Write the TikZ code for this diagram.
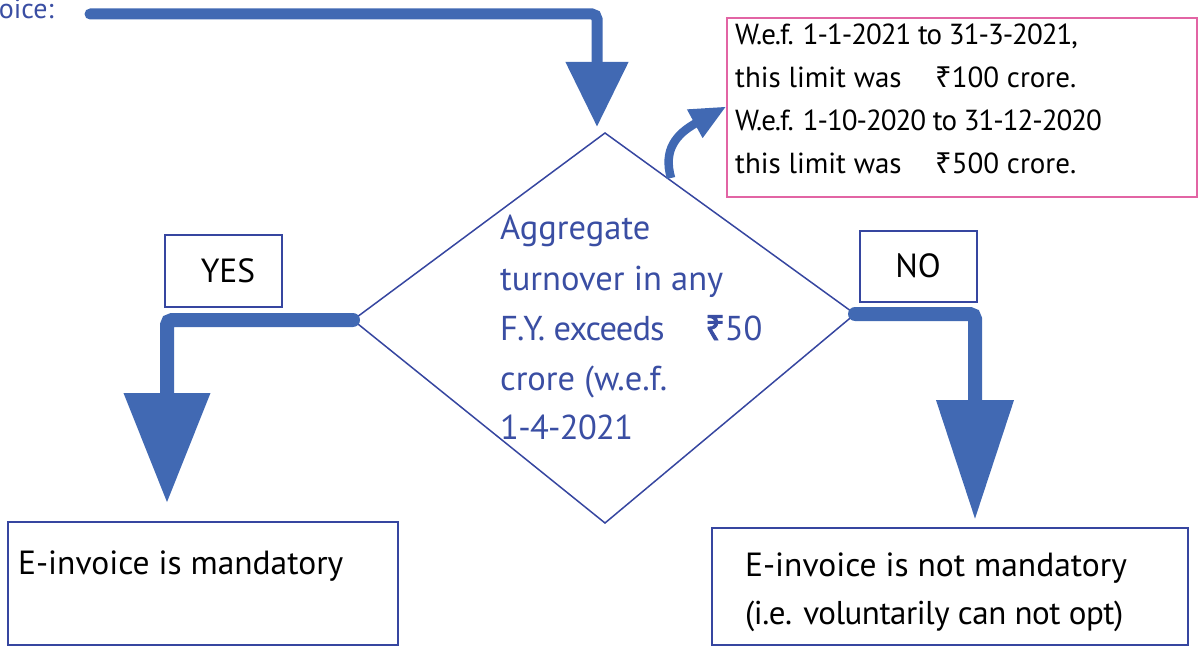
\documentclass[tikz,border=0pt]{standalone}
\usepackage{fontspec}
\setmainfont{PT Sans}
\newfontfamily\rupeefont{Noto Sans}
\newfontfamily\rupeeboldfont[FakeBold=2.5]{Noto Sans}
\usetikzlibrary{arrows.meta}
\definecolor{flowblue}{HTML}{4169B3}
\definecolor{edgeblue}{HTML}{3646A0}
\definecolor{textblue}{HTML}{3A4EA3}
\definecolor{notepink}{HTML}{E264A4}
\newcommand{\rupee}{{\rupeefont ₹}}
\newcommand{\boldrupee}{{\rupeeboldfont ₹}}

\begin{document}
\begin{tikzpicture}[x=1pt,y=-1pt,
  txt/.style={inner sep=0pt, anchor=base west, font=\fontsize{33.5}{40}\selectfont},
  notetxt/.style={inner sep=0pt, anchor=base west, font=\fontsize{29}{35}\selectfont},
  datetxt/.style={notetxt, font=\fontsize{29}{35}\selectfont\addfontfeature{LetterSpace=-3.5}},
  qtxt/.style={txt, text=textblue, font=\fontsize{34.5}{40}\selectfont},
  box/.style={draw=edgeblue, line width=1.5pt, inner sep=0pt},
  flow/.style={draw=flowblue, line cap=round, rounded corners=5pt}
]
\useasboundingbox (0,0) rectangle (1199,647);

% decision diamond
\coordinate (qt) at (605,133);
\coordinate (qr) at (855,314);
\coordinate (qb) at (605,523);
\coordinate (ql) at (353,320);
\draw[edgeblue, line width=1.5pt, line join=miter] (qt) -- (qr) -- (qb) -- (ql) -- cycle;

\node[qtxt] (q1) at (500,240) {Aggregate};
\node[qtxt] (q2) at (500,290) {turnover in any};
\node[qtxt, font=\fontsize{34.5}{40}\selectfont\addfontfeature{LetterSpace=-2.5}] (q3) at (500,340) {F.Y. exceeds};
\node[qtxt] (q3b) at (705,340) {\boldrupee 50};
\node[qtxt] (q4) at (500,390) {crore (w.e.f.};
\node[qtxt, font=\fontsize{34.5}{40}\selectfont\addfontfeature{LetterSpace=-2}] (q5) at (500,439) {1-4-2021};

% incoming line
\node[qtxt, anchor=base east, font=\fontsize{28}{34}\selectfont] (lead) at (54,19) {oice:};
\coordinate (feed) at (90,14);
\coordinate (topTip) at (597,127);
\draw[flow, line width=11pt, -{Triangle[width=60pt,length=65pt]}] (feed) -| (topTip);

% note on earlier limits
\node[draw=notepink, line width=1.3pt, minimum width=470pt, minimum height=179pt, inner sep=0pt] (note) at (962,107.5) {};
\node[datetxt] (n1) at (735,45) {W.e.f. 1-1-2021 to 31-3-2021,};
\node[notetxt] (n2) at (735,88) {this limit was};
\node[notetxt] (n2b) at (935,88) {\rupee 100 crore.};
\node[datetxt] (n3) at (735,131) {W.e.f. 1-10-2020 to 31-12-2020};
\node[notetxt] (n4) at (735,174) {this limit was};
\node[notetxt] (n4b) at (935,174) {\rupee 500 crore.};
\coordinate (curl) at (671,178);
\draw[flowblue, line width=8.5pt, -{Triangle[width=30pt,length=36pt]}]
  (curl) .. controls (663,150) and (676,134) .. ([yshift=1pt]note.west);

% YES branch
\node[box, minimum width=117pt, minimum height=72pt] (yes) at (223.5,271) {};
\node[txt, anchor=base] (yesl) at (228,282) {YES};
\coordinate (yesTip) at (167,503);
\draw[flow, line width=14pt, -{Triangle[width=83pt,length=110pt]}] (ql) -| (yesTip);
\node[box, minimum width=390pt, minimum height=123pt] (must) at (203,583.5) {};
\node[txt] (mustl) at (18,574) {E-invoice is mandatory};

% NO branch
\node[box, minimum width=117pt, minimum height=71pt] (no) at (918.5,266.5) {};
\node[txt, anchor=base] (nol) at (918,277) {NO};
\coordinate (noTip) at (975,520);
\draw[flow, line width=14pt, -{Triangle[width=74pt,length=120pt]}] (qr) -| (noTip);
\node[box, minimum width=476pt, minimum height=117pt] (opt) at (950,586.5) {};
\node[txt] (opt1) at (745,576) {E-invoice is not mandatory};
\node[txt, font=\fontsize{33}{40}\selectfont\addfontfeature{LetterSpace=-1.5}] (opt2) at (745,624) {(i.e. voluntarily can not opt)};
\end{tikzpicture}
\end{document}
